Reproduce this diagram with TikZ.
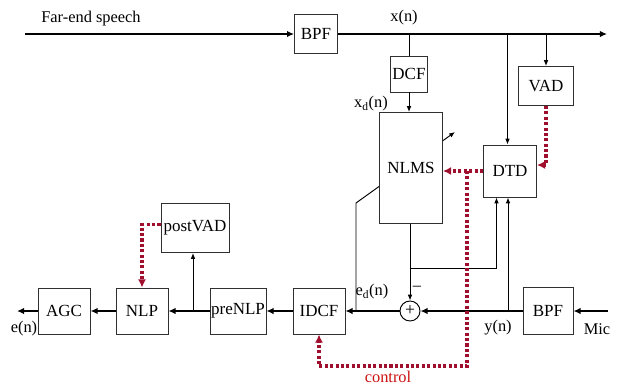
\documentclass[tikz,border=0pt]{standalone}
\usepackage{fontspec}
\setmainfont{Liberation Serif}
\usepackage{tikz}
\usepackage{xcolor}
\usetikzlibrary{arrows.meta, positioning, backgrounds, calc}
\definecolor{blockborder}{HTML}{303030}
\definecolor{ctrlred}{HTML}{A0102E}
\definecolor{ctrltext}{HTML}{CC1010}
\tikzset{
    blockbox/.style 2 args={rectangle, fill=white, draw=blockborder, line width=0.8pt, minimum width=#1, minimum height=#2, inner sep=0.5pt, font=\fontsize{14.5}{16}\selectfont},
    sumnode/.style={circle, fill=white, draw=black, line width=0.8pt, minimum size=0.6cm, inner sep=0pt, font=\fontsize{15}{16}\selectfont},
    siglabel/.style={font=\fontsize{14}{15}\selectfont, inner sep=1pt},
    mainarrow/.style={-{Latex[length=6pt, width=5.5pt]}, black, line width=2pt},
    thinarrow/.style={-{Latex[length=5pt, width=4pt]}, black, line width=0.8pt},
    thinline/.style={black, line width=0.8pt},
    ctrlarrow/.style={-{Latex[length=7pt, width=7pt]}, ctrlred, line width=2.6pt, dash pattern=on 2.6pt off 2pt},
}
\begin{document}
\begin{tikzpicture}[x=0.03cm, y=-0.03cm]
\useasboundingbox (0,0) rectangle (619,387);
% far-end branch
\node[blockbox={1.29cm}{1.17cm}] (bpfx) at (316,34) {BPF};
\node[blockbox={1.11cm}{1.08cm}] (dcf) at (409,74) {DCF};
\node[blockbox={1.89cm}{3.33cm}] (nlms) at (411,168) {NLMS};
\node[blockbox={1.65cm}{1.17cm}] (vad) at (546,86) {VAD};
\node[blockbox={1.59cm}{1.56cm}] (dtd) at (510,171) {DTD};
\coordinate (farin) at (25,34);
\coordinate (xout) at (607,34);
\node[siglabel] at (91,19) {Far-end speech};
\node[siglabel] at (404,18) {x(n)};
\node[siglabel] at (371,104) {x\textsubscript{d}(n)};
\draw[mainarrow] (farin) -- (bpfx.west);
\draw[mainarrow] (bpfx.east) -- (xout);
\draw[thinline] (dcf.north |- xout) -- (dcf.north);
\draw[thinarrow] (dcf.south) -- (dcf.south |- nlms.north);
\draw[thinarrow] (vad.north |- xout) -- (vad.north);
\draw[thinarrow] ([xshift=-0.075cm]dtd.north |- xout) -- ([xshift=-0.075cm]dtd.north);
% near-end branch
\node[blockbox={1.5cm}{1.41cm}] (bpfy) at (548,311) {BPF};
\node[sumnode] (sum) at (410,311) {+};
\node[blockbox={1.56cm}{1.38cm}] (idcf) at (319,311) {IDCF};
\node[blockbox={1.68cm}{1.38cm}] (prenlp) at (238,311) {preNLP};
\node[blockbox={1.56cm}{1.38cm}] (nlp) at (142,311) {NLP};
\node[blockbox={1.56cm}{1.38cm}, left=0.75cm of nlp] (agc) {AGC};
\node[blockbox={2.04cm}{1.47cm}] (postvad) at (195,228) {postVAD};
\coordinate (micin) at (608,311);
\coordinate (eout) at (17,311);
\coordinate (ytap) at (508,311);
\coordinate (errtap) at (410,268);
\coordinate (nlptap) at (193,311);
\node[siglabel] at (597,329) {Mic};
\node[siglabel] at (498,328) {y(n)};
\node[siglabel] at (372,292) {e\textsubscript{d}(n)};
\node[siglabel] at (417,288) {--};
\node[siglabel] at (24,329) {e(n)};
\draw[mainarrow] (micin) -- (bpfy.east);
\draw[mainarrow] (bpfy.west) -- (sum.east);
\draw[mainarrow] (sum.west) -- (idcf.east);
\draw[mainarrow] (idcf.west) -- (prenlp.east);
\draw[mainarrow] (prenlp.west) -- (nlp.east);
\draw[mainarrow] (nlp.west) -- (agc.east);
\draw[mainarrow] (agc.west) -- (eout);
\draw[thinarrow] (ytap) -- (ytap |- dtd.south);
\draw[thinarrow] (sum.north |- nlms.south) -- (sum.north);
\draw[thinarrow] (errtap) -| ([xshift=-0.405cm]dtd.south);
\draw[thinarrow] (nlptap) -- (nlptap |- postvad.south);
% adaptation arrow behind NLMS
\coordinate (adtap) at (356,311);
\coordinate (adbend) at (356,203);
\coordinate (adtip) at (455,132);
\begin{scope}[on background layer]
    \draw[thinarrow] (adtap) -- (adbend) -- (adtip);
\end{scope}
% control paths
\coordinate (ctrltap) at (467,171);
\coordinate (ctrlcorner) at (467,366);
\draw[ctrlarrow] (vad.south) |- ([yshift=0.18cm]dtd.east);
\draw[ctrlarrow] (dtd.west) -- (nlms.east |- dtd.west);
\draw[ctrlarrow] (ctrltap) -- (ctrlcorner) -| (idcf.south);
\draw[ctrlarrow] ([yshift=0.1cm]postvad.west) -| (nlp.north);
\node[siglabel, text=ctrltext] at (388,377) {control};
\end{tikzpicture}
\end{document}
